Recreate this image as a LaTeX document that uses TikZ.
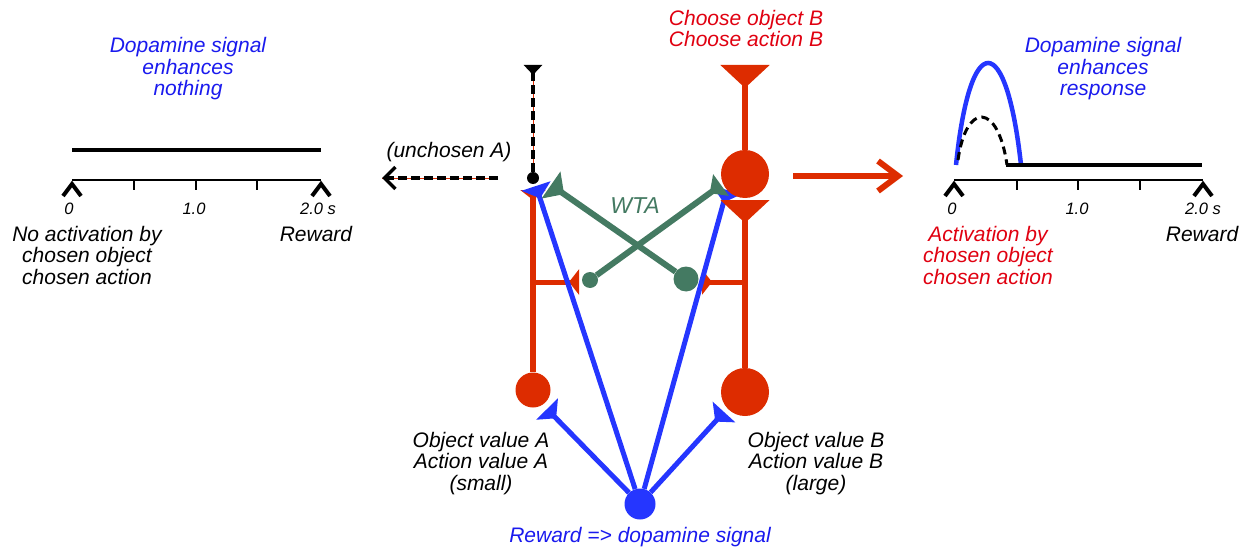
\documentclass[tikz,border=0pt]{standalone}
\usepackage{fontspec}
\setmainfont{Liberation Sans}
\usetikzlibrary{arrows.meta}
\definecolor{nred}{HTML}{DD2C00}
\definecolor{nblue}{HTML}{2536FF}
\definecolor{ngreen}{HTML}{447A62}
\definecolor{tblue}{HTML}{1A1AEE}
\definecolor{tred}{HTML}{E00010}
\begin{document}
\begin{tikzpicture}[x=1pt,y=-1pt,
  lbl/.style={font=\fontsize{21}{21.5}\selectfont\itshape, align=center, anchor=base, inner sep=0pt},
  tick/.style={font=\fontsize{16.5}{17}\selectfont\itshape, anchor=base, inner sep=0pt},
  soma/.style={circle, fill=nred, inner sep=0pt, minimum size=#1},
  gdot/.style={circle, fill=ngreen, inner sep=0pt, minimum size=#1},
  trace/.style={line width=3.5pt},
  axisline/.style={line width=1.6pt},
  chev/.style={line width=4pt, line join=miter},
  redline/.style={nred, line width=6pt},
  bluel/.style={nblue, line width=5pt},
  greenl/.style={ngreen, line width=6pt},
  dashblk/.style={line width=3.5pt, dash pattern=on 9pt off 4pt},
]
\useasboundingbox (0,0) rectangle (1246,548);

% ---------- left panel ----------
\node[lbl, text=tblue] (tl) at (188,96) {Dopamine signal\\enhances\\nothing};
\draw[trace] (72,150) -- (321,150);
\draw[axisline] (72,180) -- (321,180);
\foreach \x in {134,196,257} \draw[axisline] (\x,180) -- (\x,190);
\draw[chev] (63,196) -- (72,184) -- (81,196);
\draw[chev] (312,196) -- (321,184) -- (330,196);
\node[tick] (l0) at (69,214) {0};
\node[tick] (l1) at (194,214) {1.0};
\node[tick] (l2) at (318,214) {2.0 s};
\node[lbl] (lna) at (87,284) {No activation by\\chosen object\\chosen action};
\node[lbl] (lrw) at (316,241) {Reward};

% ---------- right panel ----------
\node[lbl, text=tblue] (tr) at (1103,96) {Dopamine signal\\enhances\\response};
\draw[nblue, line width=4.5pt] (956,165) .. controls (970,29) and (1006,29) .. (1021,165);
\draw[line width=3pt, dash pattern=on 8pt off 5pt] (958,160) .. controls (966,102) and (998,102) .. (1007,165);
\draw[trace] (1006,165) -- (1202,165);
\draw[axisline] (954,180) -- (1203,180);
\foreach \x in {1017,1078,1140} \draw[axisline] (\x,180) -- (\x,190);
\draw[chev] (945,196) -- (954,184) -- (963,196);
\draw[chev] (1194,196) -- (1203,184) -- (1212,196);
\node[tick] (r0) at (952,214) {0};
\node[tick] (r1) at (1077,214) {1.0};
\node[tick] (r2) at (1203,214) {2.0 s};
\node[lbl, text=tred] (rac) at (988,284) {Activation by\\chosen object\\chosen action};
\node[lbl] (rrw) at (1202,241) {Reward};

% red arrow between
\coordinate (ra1) at (793,176);
\coordinate (ra2) at (903,176);
\draw[nred, line width=6pt, -{Straight Barb[length=20pt,width=30pt]}] (ra1) -- (ra2);

% ---------- central circuit ----------
\node[lbl, text=tred] (chB) at (746,47) {Choose object B\\Choose action B};
\node[lbl] (unA) at (449,158) {(unchosen A)};
\node[lbl, text=ngreen, font=\fontsize{23}{24}\selectfont\itshape] (wta) at (635,213) {WTA};
\node[lbl] (ovA) at (481,490) {Object value A\\Action value A\\(small)};
\node[lbl] (ovB) at (816,490) {Object value B\\Action value B\\(large)};
\node[lbl, text=tblue] (rw) at (640,542) {Reward => dopamine signal};

% somas and dots
\node[soma=35pt] (sA) at (533,390) {};
\node[soma=48pt] (sB2) at (745,392) {};
\node[circle, fill=black, inner sep=0pt, minimum size=12pt] (dA) at (533,178) {};
\node[circle, fill=nblue, inner sep=0pt, minimum size=31pt] (dp) at (640,504) {};
\node[gdot=25pt] (gB) at (686,279) {};
\node[gdot=16pt] (gA) at (590,280) {};

\coordinate (tA) at (533,190);
\coordinate (bA) at (533,282);
\coordinate (bAe) at (579,282);
\coordinate (bB) at (745,282);
\coordinate (bBe) at (702,282);
\coordinate (tB2) at (745,200);
\coordinate (tB1) at (745,65);
\coordinate (tD) at (533,65);
\coordinate (ua1) at (498,178);
\coordinate (ua2) at (382,178);

% neuron A (red)
\draw[redline, -{Triangle[reversed,length=10pt,width=25pt]}] (sA) -- (tA);
\draw[nred, line width=5pt, -{Triangle[reversed,length=10pt,width=25pt]}] (bA) -- (bAe);
% neuron B lower
\draw[redline] (sB2) -- (bB);
\draw[nred, line width=5pt, -{Triangle[reversed,length=10pt,width=25pt]}] (bB) -- (bBe);

% unchosen A dashed parts
\draw[nred, line width=0.8pt] (dA) -- (tD);
\draw[dashblk, -{Triangle[reversed,length=10pt,width=18pt]}] (dA) -- (tD);
\draw[nred, line width=0.8pt] (ua1) -- (ua2);
\draw[dashblk, -{Straight Barb[length=11pt,width=22pt]}] (ua1) -- (ua2);

% blue dopamine projections
\coordinate (bl1) at (536,186);
\coordinate (bl2) at (727,190);
\coordinate (bl3) at (547,409);
\coordinate (bl4) at (724,412);
\draw[bluel, -{Triangle[reversed,length=13pt,width=30pt]}] (dp) -- (bl1);
\draw[bluel, -{Triangle[reversed,length=13pt,width=30pt]}] (dp) -- (bl2);
\draw[bluel, -{Triangle[reversed,length=13pt,width=30pt]}] (dp) -- (bl3);
\draw[bluel, -{Triangle[reversed,length=13pt,width=30pt]}] (dp) -- (bl4);

% green WTA
\coordinate (gt1) at (551,185);
\coordinate (gt2) at (721,185);
\draw[greenl, -{Triangle[reversed,length=16pt,width=32pt]}] (gB) -- (gt1);
\draw[greenl, -{Triangle[reversed,length=14pt,width=26pt]}] (gA) -- (gt2);

% neuron B upper parts over everything
\draw[redline, -{Triangle[reversed,length=23pt,width=48pt]}] (sB2) -- (tB2);
\node[soma=48pt] (sB1) at (745,174) {};
\draw[redline, -{Triangle[reversed,length=23pt,width=48pt]}] (sB1) -- (tB1);
\end{tikzpicture}
\end{document}
